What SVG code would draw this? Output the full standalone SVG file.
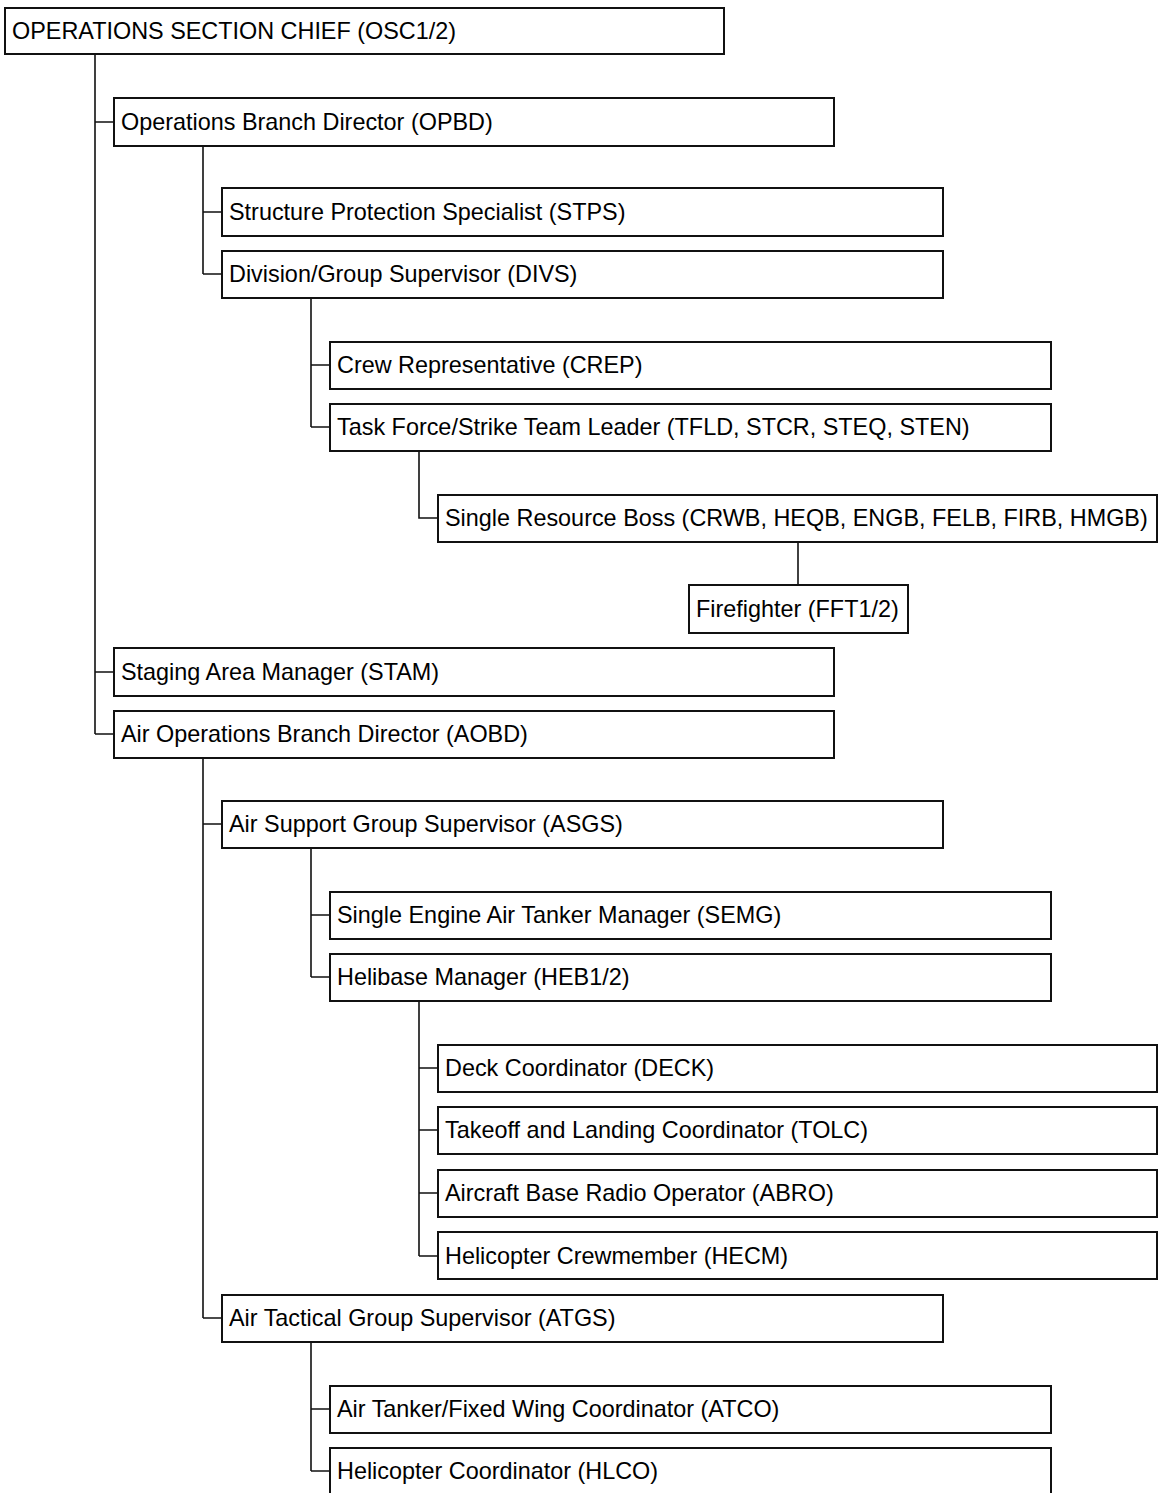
<svg xmlns="http://www.w3.org/2000/svg" width="1159" height="1493" viewBox="0 0 1159 1493">
<style>
.b{fill:#fff;stroke:#111;stroke-width:2}
.t{font-family:"Liberation Sans",Arial,sans-serif;font-size:23.4px;fill:#000}
.c{fill:none;stroke:#111;stroke-width:1.6}
</style>
<rect width="1159" height="1493" fill="#fff"/>
<g id="connectors">
<path class="c" d="M95,54V734M95,122H114M95,672H114M95,734H114"/>
<path class="c" d="M203,146V274M203,212H222M203,274H222"/>
<path class="c" d="M311,298V427M311,365H330M311,427H330"/>
<path class="c" d="M419,451V518H438"/>
<path class="c" d="M798,542V585"/>
<path class="c" d="M203,758V1318M203,824H222M203,1318H222"/>
<path class="c" d="M311,848V977M311,915H330M311,977H330"/>
<path class="c" d="M419,1001V1256M419,1068H438M419,1130H438M419,1193H438M419,1256H438"/>
<path class="c" d="M311,1342V1471M311,1409H330M311,1471H330"/>
</g>
<g id="osc"><rect class="b" x="5" y="8" width="719" height="46"/><text class="t" x="12" y="39">OPERATIONS SECTION CHIEF (OSC1/2)</text></g>
<g id="opbd"><rect class="b" x="114" y="98" width="720" height="48"/><text class="t" x="121" y="130">Operations Branch Director (OPBD)</text></g>
<g id="stps"><rect class="b" x="222" y="188" width="721" height="48"/><text class="t" x="229" y="220">Structure Protection Specialist (STPS)</text></g>
<g id="divs"><rect class="b" x="222" y="251" width="721" height="47"/><text class="t" x="229" y="282">Division/Group Supervisor (DIVS)</text></g>
<g id="crep"><rect class="b" x="330" y="342" width="721" height="47"/><text class="t" x="337" y="373">Crew Representative (CREP)</text></g>
<g id="tfld"><rect class="b" x="330" y="404" width="721" height="47"/><text class="t" x="337" y="435">Task Force/Strike Team Leader (TFLD, STCR, STEQ, STEN)</text></g>
<g id="srb"><rect class="b" x="438" y="495" width="719" height="47"/><text class="t" x="445" y="526">Single Resource Boss (CRWB, HEQB, ENGB, FELB, FIRB, HMGB)</text></g>
<g id="fft"><rect class="b" x="689" y="585" width="219" height="48"/><text class="t" x="696" y="617">Firefighter (FFT1/2)</text></g>
<g id="stam"><rect class="b" x="114" y="648" width="720" height="48"/><text class="t" x="121" y="680">Staging Area Manager (STAM)</text></g>
<g id="aobd"><rect class="b" x="114" y="711" width="720" height="47"/><text class="t" x="121" y="742">Air Operations Branch Director (AOBD)</text></g>
<g id="asgs"><rect class="b" x="222" y="801" width="721" height="47"/><text class="t" x="229" y="832">Air Support Group Supervisor (ASGS)</text></g>
<g id="semg"><rect class="b" x="330" y="892" width="721" height="47"/><text class="t" x="337" y="923">Single Engine Air Tanker Manager (SEMG)</text></g>
<g id="heb"><rect class="b" x="330" y="954" width="721" height="47"/><text class="t" x="337" y="985">Helibase Manager (HEB1/2)</text></g>
<g id="deck"><rect class="b" x="438" y="1045" width="719" height="47"/><text class="t" x="445" y="1076">Deck Coordinator (DECK)</text></g>
<g id="tolc"><rect class="b" x="438" y="1107" width="719" height="47"/><text class="t" x="445" y="1138">Takeoff and Landing Coordinator (TOLC)</text></g>
<g id="abro"><rect class="b" x="438" y="1170" width="719" height="47"/><text class="t" x="445" y="1201">Aircraft Base Radio Operator (ABRO)</text></g>
<g id="hecm"><rect class="b" x="438" y="1232" width="719" height="47"/><text class="t" x="445" y="1264">Helicopter Crewmember (HECM)</text></g>
<g id="atgs"><rect class="b" x="222" y="1295" width="721" height="47"/><text class="t" x="229" y="1326">Air Tactical Group Supervisor (ATGS)</text></g>
<g id="atco"><rect class="b" x="330" y="1386" width="721" height="47"/><text class="t" x="337" y="1417">Air Tanker/Fixed Wing Coordinator (ATCO)</text></g>
<g id="hlco"><rect class="b" x="330" y="1448" width="721" height="47"/><text class="t" x="337" y="1479">Helicopter Coordinator (HLCO)</text></g>
</svg>
